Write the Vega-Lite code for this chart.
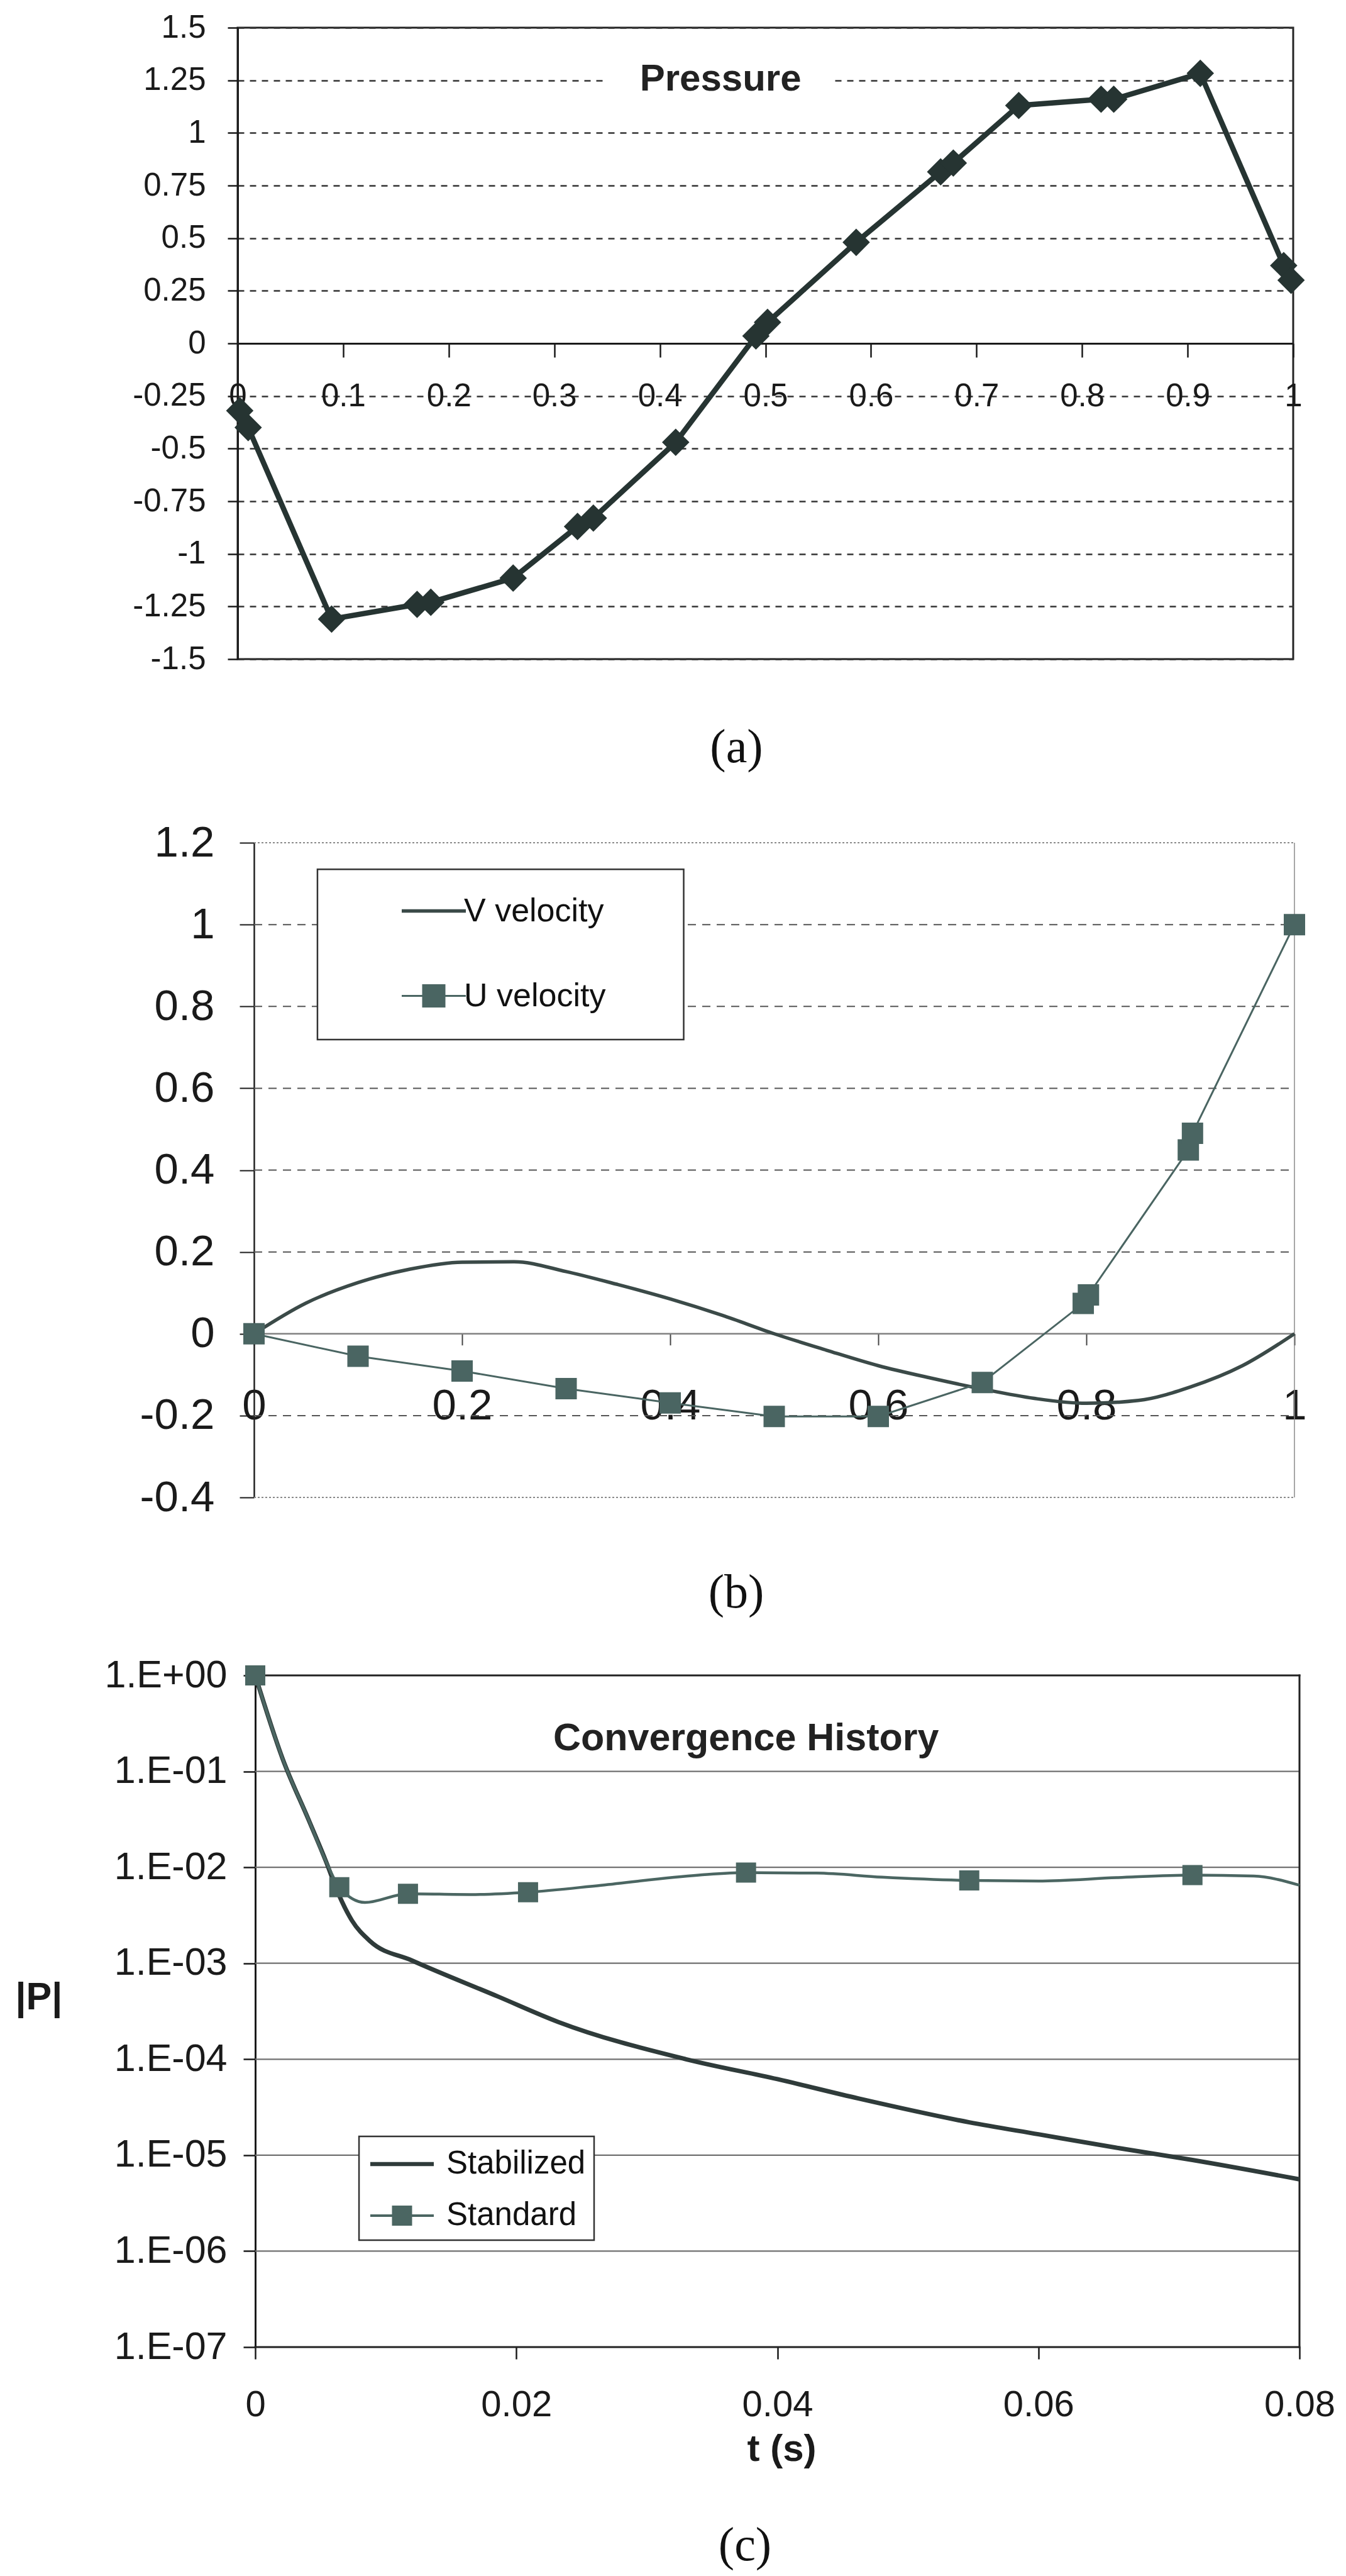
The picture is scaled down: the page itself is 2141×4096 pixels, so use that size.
{
  "$schema": "https://vega.github.io/schema/vega-lite/v6.json",
  "background": "white",
  "padding": {"left": 24, "top": 16, "right": 10, "bottom": 10},
  "columns": 1,
  "align": "none",
  "spacing": 62,
  "resolve": {"scale": {"color": "independent"}, "legend": {"color": "independent"}},
  "config": {
    "font": "Liberation Sans",
    "view": {"stroke": null},
    "axis": {"labelFont": "Liberation Sans", "labelColor": "#1a1a1a", "tickColor": "#1a1a1a", "domainColor": "#1a1a1a", "labelFlush": false, "labelOverlap": false, "labelLimit": 600, "titleFont": "Liberation Sans", "titleColor": "#1a1a1a"},
    "legend": {"labelLimit": 600},
    "title": {"font": "Liberation Serif", "fontWeight": "normal", "color": "#111111"}
  },
  "datasets": {
    "pressure": [
      {"x": 0.002, "y": -0.32}, {"x": 0.01, "y": -0.40}, {"x": 0.089, "y": -1.31}, {"x": 0.17, "y": -1.24},
      {"x": 0.183, "y": -1.23}, {"x": 0.261, "y": -1.115}, {"x": 0.322, "y": -0.87}, {"x": 0.337, "y": -0.83},
      {"x": 0.415, "y": -0.47}, {"x": 0.491, "y": 0.035}, {"x": 0.502, "y": 0.10}, {"x": 0.586, "y": 0.48},
      {"x": 0.666, "y": 0.815}, {"x": 0.678, "y": 0.857}, {"x": 0.740, "y": 1.13}, {"x": 0.818, "y": 1.16},
      {"x": 0.830, "y": 1.16}, {"x": 0.912, "y": 1.283}, {"x": 0.991, "y": 0.37}, {"x": 0.998, "y": 0.30}
    ],
    "vel": [
      {"x": 0, "y": 0, "series": "V velocity"}, {"x": 0.05, "y": 0.075, "series": "V velocity"},
      {"x": 0.1, "y": 0.125, "series": "V velocity"}, {"x": 0.15, "y": 0.158, "series": "V velocity"},
      {"x": 0.2, "y": 0.175, "series": "V velocity"}, {"x": 0.25, "y": 0.176, "series": "V velocity"},
      {"x": 0.3, "y": 0.152, "series": "V velocity"}, {"x": 0.35, "y": 0.12, "series": "V velocity"},
      {"x": 0.4, "y": 0.085, "series": "V velocity"}, {"x": 0.45, "y": 0.045, "series": "V velocity"},
      {"x": 0.5, "y": 0.0, "series": "V velocity"}, {"x": 0.55, "y": -0.04, "series": "V velocity"},
      {"x": 0.6, "y": -0.078, "series": "V velocity"}, {"x": 0.65, "y": -0.108, "series": "V velocity"},
      {"x": 0.7, "y": -0.135, "series": "V velocity"}, {"x": 0.75, "y": -0.158, "series": "V velocity"},
      {"x": 0.8, "y": -0.17, "series": "V velocity"}, {"x": 0.85, "y": -0.163, "series": "V velocity"},
      {"x": 0.9, "y": -0.13, "series": "V velocity"}, {"x": 0.95, "y": -0.078, "series": "V velocity"},
      {"x": 1.0, "y": 0, "series": "V velocity"},
      {"x": 0, "y": 0, "series": "U velocity"}, {"x": 0.1, "y": -0.055, "series": "U velocity"},
      {"x": 0.2, "y": -0.091, "series": "U velocity"}, {"x": 0.3, "y": -0.134, "series": "U velocity"},
      {"x": 0.4, "y": -0.169, "series": "U velocity"}, {"x": 0.5, "y": -0.202, "series": "U velocity"},
      {"x": 0.6, "y": -0.202, "series": "U velocity"}, {"x": 0.7, "y": -0.119, "series": "U velocity"},
      {"x": 0.797, "y": 0.074, "series": "U velocity"}, {"x": 0.802, "y": 0.095, "series": "U velocity"},
      {"x": 0.898, "y": 0.449, "series": "U velocity"}, {"x": 0.902, "y": 0.49, "series": "U velocity"},
      {"x": 1.0, "y": 1.0, "series": "U velocity"}
    ],
    "bGrid": [
      {"x": 0, "x2": 1, "y": -0.2}, {"x": 0, "x2": 1, "y": 0.2}, {"x": 0, "x2": 1, "y": 0.4},
      {"x": 0, "x2": 1, "y": 0.6}, {"x": 0, "x2": 1, "y": 0.8}, {"x": 0, "x2": 1, "y": 1}
    ],
    "bEdge": [{"x": 0, "x2": 1, "y": 1.2}, {"x": 0, "x2": 1, "y": -0.4}],
    "conv": [
      {"x": 0, "y": 1, "series": "Stabilized"}, {"x": 0.0021, "y": 0.135, "series": "Stabilized"},
      {"x": 0.0041, "y": 0.031, "series": "Stabilized"}, {"x": 0.0054, "y": 0.0117, "series": "Stabilized"},
      {"x": 0.0064, "y": 0.0052, "series": "Stabilized"}, {"x": 0.0074, "y": 0.0028, "series": "Stabilized"},
      {"x": 0.0088, "y": 0.0017, "series": "Stabilized"}, {"x": 0.012, "y": 0.00107, "series": "Stabilized"},
      {"x": 0.0186, "y": 0.00045, "series": "Stabilized"}, {"x": 0.0232, "y": 0.000245, "series": "Stabilized"},
      {"x": 0.033, "y": 0.0001, "series": "Stabilized"}, {"x": 0.04, "y": 0.000062, "series": "Stabilized"},
      {"x": 0.0462, "y": 0.000039, "series": "Stabilized"}, {"x": 0.0547, "y": 0.000022, "series": "Stabilized"},
      {"x": 0.06, "y": 0.0000165, "series": "Stabilized"}, {"x": 0.0659, "y": 0.000012, "series": "Stabilized"},
      {"x": 0.0718, "y": 0.0000089, "series": "Stabilized"}, {"x": 0.08, "y": 0.0000056, "series": "Stabilized"},
      {"x": 0, "y": 1, "series": "Standard"}, {"x": 0.0021, "y": 0.135, "series": "Standard"},
      {"x": 0.0041, "y": 0.031, "series": "Standard"}, {"x": 0.0054, "y": 0.0117, "series": "Standard"},
      {"x": 0.00644, "y": 0.0062, "series": "Standard"}, {"x": 0.0084, "y": 0.0043, "series": "Standard"},
      {"x": 0.0117, "y": 0.0053, "series": "Standard"}, {"x": 0.0165, "y": 0.0052, "series": "Standard"},
      {"x": 0.0209, "y": 0.0055, "series": "Standard"}, {"x": 0.0265, "y": 0.0065, "series": "Standard"},
      {"x": 0.034, "y": 0.0083, "series": "Standard"}, {"x": 0.0376, "y": 0.0088, "series": "Standard"},
      {"x": 0.043, "y": 0.0087, "series": "Standard"}, {"x": 0.048, "y": 0.0079, "series": "Standard"},
      {"x": 0.0547, "y": 0.0073, "series": "Standard"}, {"x": 0.06, "y": 0.0072, "series": "Standard"},
      {"x": 0.066, "y": 0.0078, "series": "Standard"}, {"x": 0.0718, "y": 0.0083, "series": "Standard"},
      {"x": 0.0765, "y": 0.0081, "series": "Standard"}, {"x": 0.08, "y": 0.0065, "series": "Standard"}
    ],
    "convMarks": [
      {"x": 0, "y": 1}, {"x": 0.00644, "y": 0.0062}, {"x": 0.0117, "y": 0.0053}, {"x": 0.0209, "y": 0.0055},
      {"x": 0.0376, "y": 0.0088}, {"x": 0.0547, "y": 0.0073}, {"x": 0.0718, "y": 0.0083}
    ],
    "cGrid": [
      {"x": 0, "x2": 0.08, "y": 0.1}, {"x": 0, "x2": 0.08, "y": 0.01}, {"x": 0, "x2": 0.08, "y": 0.001},
      {"x": 0, "x2": 0.08, "y": 0.0001}, {"x": 0, "x2": 0.08, "y": 0.00001}, {"x": 0, "x2": 0.08, "y": 0.000001}
    ],
    "cEdge": [
      {"x": 0, "x2": 0.08, "y": 1, "y2": 1}, {"x": 0, "x2": 0.08, "y": 0.0000001, "y2": 0.0000001},
      {"x": 0.08, "x2": 0.08, "y": 0.0000001, "y2": 1}
    ]
  },
  "concat": [
    {
      "width": 1679, "height": 1004,
      "view": {"stroke": "#222222", "strokeWidth": 3},
      "title": {"text": "(a)", "orient": "bottom", "anchor": "middle", "frame": "group", "fontSize": 76, "baseline": "middle", "offset": 116, "dx": -46},
      "encoding": {
        "x": {"field": "x", "type": "quantitative", "scale": {"domain": [0, 1], "nice": false, "zero": false},
          "axis": {"orient": "bottom", "offset": -502, "values": [0, 0.1, 0.2, 0.3, 0.4, 0.5, 0.6, 0.7, 0.8, 0.9, 1],
            "labelExpr": "'' + datum.value", "labelFontSize": 51, "labelBaseline": "middle", "labelPadding": 62,
            "tickSize": 22, "tickWidth": 2.5, "domainWidth": 3, "grid": false, "title": null}},
        "y": {"field": "y", "type": "quantitative", "scale": {"domain": [-1.5, 1.5], "nice": false, "zero": false},
          "axis": {"values": [-1.5, -1.25, -1, -0.75, -0.5, -0.25, 0, 0.25, 0.5, 0.75, 1, 1.25, 1.5],
            "labelExpr": "'' + datum.value", "labelFontSize": 51, "labelPadding": 35, "tickSize": 16, "tickWidth": 2.5,
            "domainWidth": 3, "grid": true, "gridColor": "#333333", "gridDash": [10, 9], "gridWidth": 2.5, "title": null}}
      },
      "layer": [
        {"data": {"values": [{"x": 0.35, "x2": 0.565, "y": 1.205, "y2": 1.3}]},
         "mark": {"type": "rect", "fill": "white"},
         "encoding": {"x2": {"field": "x2"}, "y2": {"field": "y2"}}},
        {"data": {"values": [{"x": 0.4575, "y": 1.255, "label": "Pressure"}]},
         "mark": {"type": "text", "fontSize": 60, "fontWeight": "bold", "color": "#222222", "align": "center", "baseline": "middle"},
         "encoding": {"text": {"field": "label"}}},
        {"data": {"name": "pressure"}, "mark": {"type": "line", "color": "#263432", "strokeWidth": 8.5, "strokeJoin": "round"}},
        {"data": {"name": "pressure"}, "mark": {"type": "point", "shape": "diamond", "filled": true, "size": 1900, "color": "#263432", "opacity": 1}}
      ]
    },
    {
      "width": 1681, "height": 1041,
      "title": {"text": "(b)", "orient": "bottom", "anchor": "middle", "frame": "group", "fontSize": 76, "baseline": "middle", "offset": 117, "dx": -47.5},
      "encoding": {
        "x": {"field": "x", "type": "quantitative", "scale": {"domain": [-0.01571, 1], "nice": false, "zero": false},
          "axis": {"orient": "bottom", "offset": -260.25, "values": [0, 0.2, 0.4, 0.6, 0.8, 1],
            "labelExpr": "'' + datum.value", "labelFontSize": 69, "labelBaseline": "middle", "labelPadding": 97,
            "tickSize": 18, "tickWidth": 2, "tickColor": "#444444", "domain": false, "grid": false, "title": null}},
        "y": {"field": "y", "type": "quantitative", "scale": {"domain": [-0.4, 1.2], "nice": false, "zero": false},
          "axis": {"offset": -26, "values": [-0.4, -0.2, 0, 0.2, 0.4, 0.6, 0.8, 1, 1.2],
            "labelExpr": "'' + datum.value", "labelFontSize": 69, "labelPadding": 40, "tickSize": 23, "tickWidth": 2,
            "domainWidth": 2.5, "domainColor": "#222222", "grid": false,
            "title": "x", "titleOpacity": 0, "titleFontSize": 8, "titleAngle": 0, "titleAlign": "left", "titleBaseline": "top", "titleX": -150, "titleY": -49}}
      },
      "layer": [
        {"data": {"name": "bGrid"}, "mark": {"type": "rule", "color": "#555555", "strokeWidth": 2, "strokeDash": [13, 10]},
         "encoding": {"x2": {"field": "x2"}}},
        {"data": {"name": "bEdge"}, "mark": {"type": "rule", "color": "#8a8a8a", "strokeWidth": 2, "strokeDash": [3, 3]},
         "encoding": {"x2": {"field": "x2"}}},
        {"data": {"values": [{"x": 0, "x2": 1, "y": 0}]}, "mark": {"type": "rule", "color": "#808080", "strokeWidth": 2.5},
         "encoding": {"x2": {"field": "x2"}}},
        {"data": {"values": [{"x": 1, "y": -0.4, "y2": 1.2}]}, "mark": {"type": "rule", "color": "#8a8a8a", "strokeWidth": 1.5},
         "encoding": {"y2": {"field": "y2"}}},
        {"data": {"values": [{"x": 0.061, "x2": 0.413, "y": 1.135, "y2": 0.719}]},
         "mark": {"type": "rect", "fill": "white", "stroke": "#333333", "strokeWidth": 2.5},
         "encoding": {"x2": {"field": "x2"}, "y2": {"field": "y2"}}},
        {"data": {"name": "vel"}, "transform": [{"filter": "datum.series === 'V velocity'"}],
         "mark": {"type": "line", "strokeWidth": 5.5, "interpolate": "monotone"},
         "encoding": {"color": {"field": "series", "type": "nominal",
            "scale": {"domain": ["V velocity", "U velocity"], "range": ["#3b4a48", "#4a6562"]},
            "legend": {"orient": "none", "legendX": 286, "legendY": 82.5, "title": null, "padding": 0,
              "labelFontSize": 52, "labelFont": "Liberation Sans", "labelColor": "#111111", "labelOffset": 22, "rowPadding": 83,
              "symbolSize": 1156, "symbolStrokeWidth": 4, "symbolType": "M-3,0L3,0",
              "encode": {
                "labels": {"update": {"fontSize": {"value": 52}}},
                "symbols": {"update": {
                "size": {"value": 1156},
                "shape": {"signal": "datum.value === 'U velocity' ? 'M-3,0L3,0M-1,-1L1,-1L1,1L-1,1Z' : 'M-3,0L3,0'"},
                "fill": {"signal": "datum.value === 'U velocity' ? '#4a6562' : 'transparent'"},
                "strokeWidth": {"signal": "datum.value === 'U velocity' ? 3 : 5.5"}}}}}}}},
        {"data": {"name": "vel"}, "transform": [{"filter": "datum.series === 'U velocity'"}],
         "mark": {"type": "line", "strokeWidth": 3},
         "encoding": {"color": {"field": "series", "type": "nominal"}}},
        {"data": {"name": "vel"}, "transform": [{"filter": "datum.series === 'U velocity'"}],
         "mark": {"type": "point", "shape": "square", "filled": true, "size": 1156, "color": "#4a6562", "opacity": 1}}
      ]
    },
    {
      "width": 1689, "height": 1068,
      "title": {"text": "(c)", "orient": "bottom", "anchor": "middle", "frame": "group", "fontSize": 76, "baseline": "middle", "offset": 124, "dx": -37.5},
      "encoding": {
        "x": {"field": "x", "type": "quantitative", "scale": {"domain": [-0.0013486, 0.08], "nice": false, "zero": false},
          "axis": {"values": [0, 0.02, 0.04, 0.06, 0.08], "labelExpr": "'' + datum.value", "labelFontSize": 58,
            "labelBaseline": "middle", "labelPadding": 73, "tickSize": 19, "tickWidth": 2.5, "domain": false, "grid": false,
            "title": "t (s)", "titleFontSize": 60, "titleFontWeight": "bold", "titleBaseline": "middle", "titleAlign": "center", "titleX": 865, "titleY": 162}},
        "y": {"field": "y", "type": "quantitative", "scale": {"type": "log", "domain": [1e-7, 1], "nice": false},
          "axis": {"offset": -28, "values": [1, 0.1, 0.01, 0.001, 0.0001, 0.00001, 0.000001, 0.0000001],
            "labelExpr": "datum.value >= 0.5 ? '1.E+00' : '1.E-0' + round(-log(datum.value) / LN10)",
            "labelFontSize": 61, "labelPadding": 26, "tickSize": 19, "tickWidth": 2.5, "domainWidth": 3, "grid": false,
            "title": "|P|", "titleFontSize": 61, "titleFontWeight": "bold", "titleAngle": 0, "titleAlign": "left", "titleBaseline": "middle", "titleX": -382, "titleY": 512}}
      },
      "layer": [
        {"data": {"name": "cGrid"}, "mark": {"type": "rule", "color": "#707070", "strokeWidth": 2.3},
         "encoding": {"x2": {"field": "x2"}}},
        {"data": {"name": "cEdge"}, "mark": {"type": "rule", "color": "#222222", "strokeWidth": 3, "strokeCap": "square"},
         "encoding": {"x2": {"field": "x2"}, "y2": {"field": "y2"}}},
        {"data": {"values": [{"x": 0.00795, "x2": 0.02596, "y": 0.0000157, "y2": 0.0000013}]},
         "mark": {"type": "rect", "fill": "white", "stroke": "#333333", "strokeWidth": 2.5},
         "encoding": {"x2": {"field": "x2"}, "y2": {"field": "y2"}}},
        {"data": {"values": [{"x": 0.008814, "x2": 0.013679, "y": 0.00000807}]},
         "mark": {"type": "rule", "color": "#2f3b3a", "strokeWidth": 6.5},
         "encoding": {"x2": {"field": "x2"}}},
        {"data": {"values": [{"x": 0.008814, "x2": 0.013679, "y": 0.00000234}]},
         "mark": {"type": "rule", "color": "#4b6662", "strokeWidth": 4},
         "encoding": {"x2": {"field": "x2"}}},
        {"data": {"values": [{"x": 0.011246, "y": 0.00000234}]},
         "mark": {"type": "point", "shape": "square", "filled": true, "size": 1024, "color": "#4b6662", "opacity": 1}},
        {"data": {"values": [{"x": 0.014642, "y": 0.00000807, "label": "Stabilized"}, {"x": 0.014642, "y": 0.00000234, "label": "Standard"}]},
         "mark": {"type": "text", "fontSize": 51, "color": "#111111", "align": "left", "baseline": "middle"},
         "encoding": {"text": {"field": "label"}}},
        {"data": {"values": [{"x": 0.0376, "y": 0.217, "label": "Convergence History"}]},
         "mark": {"type": "text", "fontSize": 61, "fontWeight": "bold", "color": "#222222", "align": "center", "baseline": "middle"},
         "encoding": {"text": {"field": "label"}}},
        {"data": {"name": "conv"}, "transform": [{"filter": "datum.series === 'Stabilized'"}],
         "mark": {"type": "line", "strokeWidth": 7, "interpolate": "monotone", "color": "#2f3b3a"}},
        {"data": {"name": "conv"}, "transform": [{"filter": "datum.series === 'Standard'"}],
         "mark": {"type": "line", "strokeWidth": 4.5, "interpolate": "monotone", "color": "#4b6662"}},
        {"data": {"name": "convMarks"},
         "mark": {"type": "point", "shape": "square", "filled": true, "size": 1024, "color": "#4b6662", "opacity": 1}}
      ]
    }
  ]
}
